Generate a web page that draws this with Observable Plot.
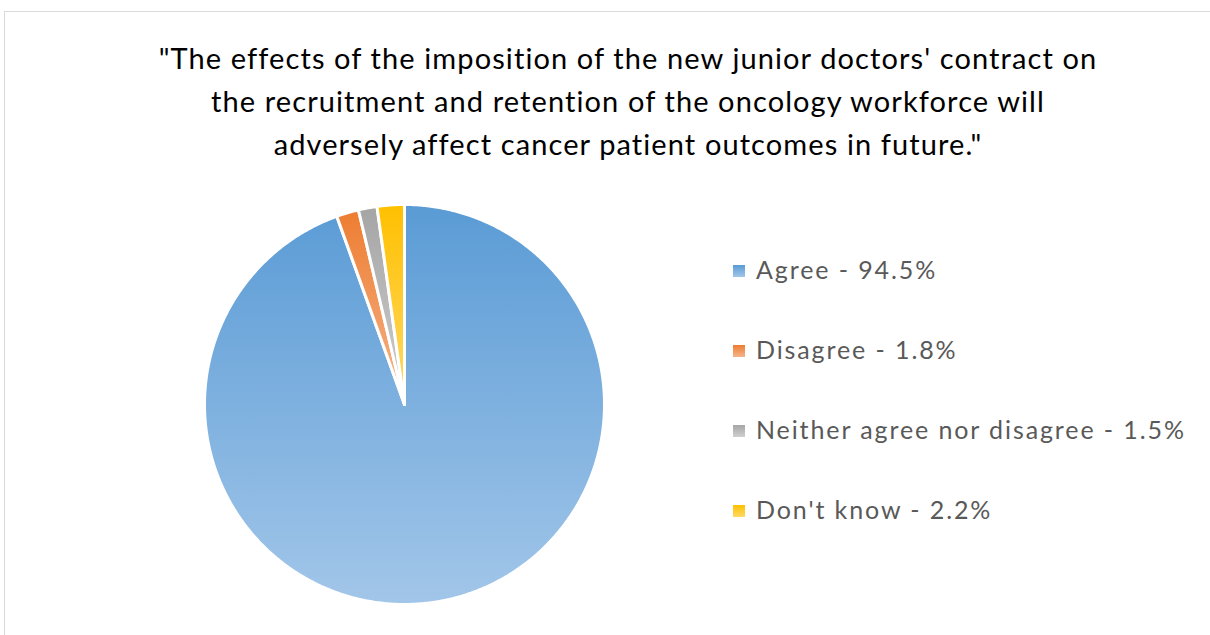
<!DOCTYPE html>
<html>
<head>
<meta charset="utf-8">
<script src="https://cdn.jsdelivr.net/npm/d3@7"></script>
<script src="https://cdn.jsdelivr.net/npm/@observablehq/plot@0.6"></script>
<style>
  html, body { margin: 0; padding: 0; background: #fff; overflow: hidden; }
  #wrap { position: relative; width: 1210px; height: 635px; font-family: Lato, "Open Sans", sans-serif; }
  #frame { position: absolute; left: 4px; top: 11px; width: 1300px; height: 700px; border-left: 1px solid #d9d9d9; border-top: 1px solid #d9d9d9; }
  #title { position: absolute; left: 0; top: 36px; width: 1256px; text-align: center; font-size: 29px; letter-spacing: 1.1px; line-height: 43px; color: #000; }
  #chart { position: absolute; left: 194px; top: 194px; }
  #legend { position: absolute; left: 733px; top: 249px; }
  .item { position: absolute; left: 0; white-space: nowrap; font-size: 25px; letter-spacing: 1.9px; color: #595959; height: 40px; line-height: 40px; }
  .sw { display: inline-block; width: 12px; height: 12px; margin-right: 11px; vertical-align: middle; position: relative; top: -2px; }
</style>
</head>
<body>
<div id="wrap">
  <div id="frame"></div>
  <div id="title"></div>
  <div id="chart"></div>
  <div id="legend"></div>
</div>
<script>
const titleLines = [
  "\"The effects of the imposition of the new junior doctors' contract on",
  "the recruitment and retention of the oncology workforce will",
  "adversely affect cancer patient outcomes in future.\""
];
const categories = ["Agree", "Disagree", "Neither agree nor disagree", "Don't know"];
const values = [94.5, 1.8, 1.5, 2.2];
const colorsTop = ["#5a9bd5", "#ed7d31", "#a5a5a5", "#ffc000"];
const colorsBottom = ["#a2c6e9", "#f6b48a", "#cfcfcf", "#ffd966"];

document.getElementById("title").innerHTML = titleLines.map(t => `<div>${t.replace(/</g,"&lt;")}</div>`).join("");

// pie geometry from data
const arcs = d3.pie().sort(null).value(d => d.value).startAngle(0).endAngle(2 * Math.PI)(
  categories.map((c, i) => ({category: c, value: values[i], i}))
);
const pts = [];
for (const a of arcs) {
  const key = a.data.category;
  pts.push({key, i: a.data.i, x: 0, y: 0});
  const n = Math.max(4, Math.ceil((a.endAngle - a.startAngle) / (Math.PI / 360)));
  for (let k = 0; k <= n; ++k) {
    const t = a.startAngle + (a.endAngle - a.startAngle) * k / n;
    pts.push({key, i: a.data.i, x: Math.sin(t), y: Math.cos(t)});
  }
  pts.push({key, i: a.data.i, x: 0, y: 0});
}

const plot = Plot.plot({
  width: 420, height: 420,
  margin: 10,
  x: {domain: [-1, 1], axis: null},
  y: {domain: [-1, 1], axis: null},
  color: {type: "identity"},
  marks: categories.map((c, i) =>
    Plot.line(pts.filter(p => p.i === i), {
      x: "x", y: "y",
      fill: `url(#grad${i})`,
      stroke: "#fff",
      strokeWidth: 3,
      strokeLinejoin: "round",
      curve: "linear"
    })
  )
});

const svg = d3.select(plot);
const defs = svg.insert("defs", ":first-child");
colorsTop.forEach((c, i) => {
  const g = defs.append("linearGradient").attr("id", `grad${i}`).attr("x1", 0).attr("y1", 0).attr("x2", 0).attr("y2", 1);
  g.append("stop").attr("offset", "0%").attr("stop-color", c);
  g.append("stop").attr("offset", "100%").attr("stop-color", colorsBottom[i]);
});
document.getElementById("chart").appendChild(plot);

const legend = document.getElementById("legend");
categories.forEach((c, i) => {
  const d = document.createElement("div");
  d.className = "item";
  d.style.top = (i * 80) + "px";
  d.innerHTML = `<span class="sw" style="background:linear-gradient(${colorsTop[i]}, ${colorsBottom[i]})"></span>${c} - ${values[i]}%`;
  legend.appendChild(d);
});
</script>
</body>
</html>
